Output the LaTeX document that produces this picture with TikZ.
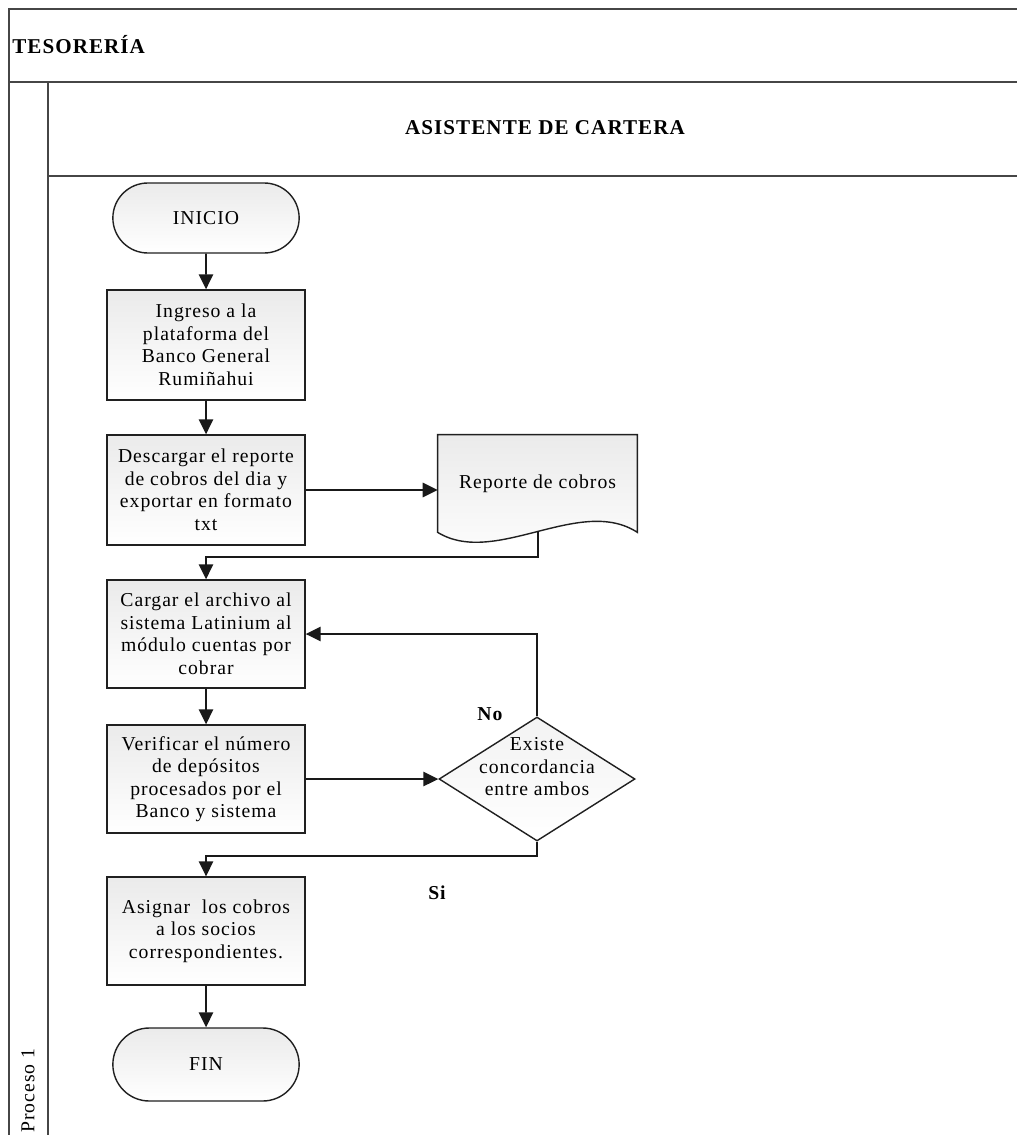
\documentclass[tikz,border=0pt]{standalone}
\usepackage{fontspec}
\setmainfont{Liberation Serif}[LetterSpace=5]
\usepackage{tikz}
\usetikzlibrary{arrows.meta,positioning,calc,backgrounds,shapes.geometric,shapes.misc}
\newcommand{\boxfont}{\fontsize{11.2}{12.8}\selectfont}
\newcommand{\headfont}{\fontsize{12}{14}\selectfont\bfseries}

\begin{document}
\begin{tikzpicture}[
  >={Triangle[length=3mm,width=2.9mm]},
  lane/.style={line width=1.3pt,gray!55!black},
  proc/.style={rectangle,draw=gray!25!black,line width=0.8pt,top color=gray!16,bottom color=white,
               minimum width=3.96cm,minimum height=2.2cm,align=center,inner sep=1pt,font=\boxfont},
  term/.style={rounded rectangle,draw=gray!25!black,line width=0.8pt,
               top color=gray!16,bottom color=white,minimum width=3.96cm,minimum height=1.4cm,font=\boxfont},
  docnode/.style={rectangle,minimum width=3.98cm,minimum height=1.94cm,font=\boxfont},
  docline/.style={draw=gray!25!black,line width=0.8pt},
  decision/.style={diamond,draw=gray!25!black,line width=0.8pt,top color=gray!10,bottom color=white,
                   minimum width=3.92cm,minimum height=2.48cm,inner sep=0pt},
  txt/.style={align=center,font=\boxfont,inner sep=0pt},
  flow/.style={->,line width=0.9pt,gray!20!black},
  title/.style={font=\headfont,inner sep=0pt},
  yesno/.style={font=\boxfont\bfseries}
]
\useasboundingbox (0,0) rectangle (20.34,-22.7);

% ---- swimlane frame ----
\draw[lane] (0.18,-22.7) |- (20.34,-0.18);
\draw[lane] (0.18,-1.64) -- (20.34,-1.64);
\draw[lane] (0.96,-1.64) -- (0.96,-22.7);
\draw[lane] (0.96,-3.52) -- (20.34,-3.52);
\node[title,anchor=west] (tesoreria) at (0.24,-0.9) {TESORERÍA};
\node[title] (asistente) at (10.9,-2.56) {ASISTENTE DE CARTERA};
\node[rotate=90,anchor=west,inner sep=0pt,font=\boxfont] (proceso) at (0.56,-22.66) {Proceso 1};

% ---- main column ----
\node[term] (inicio) at (4.12,-4.36) {INICIO};
\node[proc] (ingreso) at (4.12,-6.9) {Ingreso a la\\plataforma del\\Banco General\\Rumiñahui};
\node[proc] (descarga) at (4.12,-9.8) {Descargar el reporte\\de cobros del dia y\\exportar en formato\\txt};
\node[proc,minimum height=2.16cm] (cargar) at (4.12,-12.68) {Cargar el archivo al\\sistema Latinium al\\módulo cuentas por\\cobrar};
\node[proc,minimum height=2.16cm] (verificar) at (4.12,-15.58) {Verificar el número\\de depósitos\\procesados por el\\Banco y sistema};
\node[proc,minimum height=2.16cm] (asignar) at (4.12,-18.62) {Asignar~ los cobros\\a los socios\\correspondientes.};
\node[term,minimum height=1.46cm] (fin) at (4.12,-21.29) {FIN};

% ---- document + decision ----
\node[docnode] (reporte) at (10.75,-9.67) {Reporte de cobros};
\begin{scope}[on background layer]
\draw[docline,top color=gray!16,bottom color=white] (reporte.north west) -- (reporte.south west)
   .. controls (9.9,-11.35) and (11.6,-9.9) .. (reporte.south east) -- (reporte.north east) -- cycle;
\end{scope}
\coordinate (docfoot) at (10.76,-10.62);
\node[decision,label={[txt,yshift=0.24cm]center:{Existe\\concordancia\\entre ambos}}] (existe) at (10.74,-15.58) {};

% ---- connectors ----
\coordinate (j1) at (4.12,-11.14);
\coordinate (j2) at (4.12,-17.12);
\draw[flow] (inicio) -- (ingreso);
\draw[flow] (ingreso) -- (descarga);
\draw[flow] (descarga.east) -- (descarga.east -| reporte.west);
\draw[flow] (docfoot) |- (j1) -- (cargar);
\draw[flow] (cargar) -- (verificar);
\draw[flow] (verificar) -- (existe);
\draw[flow] (existe.north) |- (cargar.east);
\draw[flow] (existe.south) |- (j2) -- (asignar);
\draw[flow] (asignar) -- (fin);
\node[yesno] (nolbl) at (9.8,-14.28) {No};
\node[yesno] (silbl) at (8.74,-17.86) {Si};

\end{tikzpicture}
\end{document}
